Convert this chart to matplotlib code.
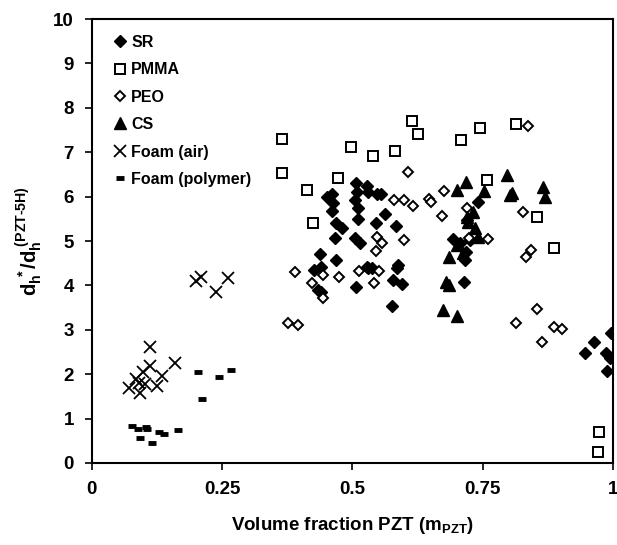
import matplotlib

matplotlib.use("Agg")

import matplotlib.pyplot as plt

plt.rcParams["font.family"] = "Liberation Sans"
plt.rcParams["font.weight"] = "bold"
plt.rcParams["axes.labelweight"] = "bold"
plt.rcParams["mathtext.fontset"] = "custom"
plt.rcParams["mathtext.rm"] = "Liberation Sans:bold"
plt.rcParams["mathtext.it"] = "Liberation Sans:bold"
plt.rcParams["mathtext.bf"] = "Liberation Sans:bold"

# values (x = PZT volume fraction, y = dh*/dh(PZT-5H))
SR_X = [0.507, 0.509, 0.505, 0.511, 0.510, 0.527, 0.530, 0.548, 0.554, 0.452, 0.460, 0.463, 0.460,
        0.468, 0.479, 0.466, 0.505, 0.514, 0.545, 0.562, 0.583, 0.438, 0.468, 0.439, 0.427, 0.434,
        0.440, 0.527, 0.537, 0.588, 0.585, 0.577, 0.596, 0.507, 0.575, 0.692, 0.740, 0.720, 0.706,
        0.718, 0.716, 0.714, 0.726, 0.996, 0.964, 0.946, 0.987, 0.994, 0.989, 0.530]
SR_Y = [6.31, 6.11, 5.92, 5.74, 5.50, 6.24, 6.11, 6.07, 6.06, 6.00, 6.07, 5.85, 5.68,
        5.41, 5.29, 5.06, 5.06, 4.96, 5.40, 5.62, 5.34, 4.71, 4.57, 4.42, 4.35, 3.90,
        3.85, 4.42, 4.39, 4.46, 4.40, 4.12, 4.03, 3.97, 3.54, 5.04, 5.89, 5.47, 4.95,
        4.76, 4.57, 4.08, 5.02, 2.93, 2.73, 2.47, 2.48, 2.36, 2.08, 4.40]

PMMA_X = [0.365, 0.365, 0.412, 0.425, 0.473, 0.498, 0.539, 0.582, 0.614, 0.626, 0.708, 0.744,
          0.813, 0.758, 0.855, 0.887, 0.974, 0.971]
PMMA_Y = [7.29, 6.54, 6.15, 5.40, 6.41, 7.12, 6.92, 7.03, 7.71, 7.41, 7.27, 7.54,
          7.63, 6.37, 5.55, 4.84, 0.69, 0.24]

PEO_X = [0.377, 0.396, 0.390, 0.423, 0.444, 0.444, 0.475, 0.513, 0.551, 0.541, 0.548, 0.556,
         0.545, 0.599, 0.580, 0.598, 0.617, 0.646, 0.650, 0.607, 0.676, 0.671, 0.720, 0.761,
         0.827, 0.842, 0.834, 0.855, 0.814, 0.863, 0.887, 0.903, 0.836, 0.724]
PEO_Y = [3.15, 3.11, 4.31, 4.05, 4.23, 3.71, 4.18, 4.33, 4.33, 4.06, 5.10, 4.96,
         4.78, 5.02, 5.92, 5.92, 5.80, 5.94, 5.89, 6.56, 6.13, 5.57, 5.74, 5.04,
         5.66, 4.80, 4.63, 3.46, 3.15, 2.73, 3.07, 3.01, 7.58, 5.06]

CS_X = [0.700, 0.718, 0.752, 0.796, 0.802, 0.806, 0.865, 0.869, 0.731, 0.735, 0.740, 0.722,
        0.700, 0.686, 0.679, 0.686, 0.673, 0.700, 0.713, 0.719]
CS_Y = [6.14, 6.34, 6.13, 6.49, 6.04, 6.08, 6.22, 6.00, 5.66, 5.29, 5.10, 5.43,
        4.91, 4.65, 4.08, 4.01, 3.45, 3.30, 4.72, 5.55]

AIR_X = [0.072, 0.084, 0.092, 0.098, 0.102, 0.111, 0.111, 0.125, 0.134, 0.160, 0.200, 0.209,
         0.238, 0.262, 0.090]
AIR_Y = [1.70, 1.89, 1.57, 2.06, 1.77, 2.62, 2.18, 1.73, 1.97, 2.26, 4.11, 4.20,
         3.86, 4.16, 1.80]

POLY_X = [0.077, 0.089, 0.104, 0.105, 0.092, 0.115, 0.129, 0.139, 0.165, 0.204, 0.212, 0.244, 0.267]
POLY_Y = [0.84, 0.76, 0.82, 0.76, 0.56, 0.46, 0.69, 0.65, 0.75, 2.06, 1.44, 1.94, 2.09]

X_TICKS = [0, 0.25, 0.5, 0.75, 1]
X_TICKLABELS = ["0", "0.25", "0.5", "0.75", "1"]


def main():
    fig = plt.figure(figsize=(6.17, 5.45), dpi=100)
    ax = fig.add_axes([0.149, 0.1505, 0.8445, 0.8145])

    ax.plot(SR_X, SR_Y, ls="none", marker="D", ms=6.5, color="black", label="SR")
    ax.plot(PMMA_X, PMMA_Y, ls="none", marker="s", ms=7.5, mfc="white", mec="black", mew=1.4,
            label="PMMA")
    ax.plot(PEO_X, PEO_Y, ls="none", marker="D", ms=5.5, mfc="white", mec="black", mew=1.4,
            label="PEO")
    ax.plot(CS_X, CS_Y, ls="none", marker="^", ms=8, color="black", label="CS")
    ax.plot(AIR_X, AIR_Y, ls="none", marker="x", ms=8.5, mew=1.3, color="black", label="Foam (air)")
    ax.plot(POLY_X, POLY_Y, ls="none", marker="_", ms=5.5, mew=3.5, color="black",
            label="Foam (polymer)")

    ax.set_xlim(0, 1)
    ax.set_ylim(0, 10)
    ax.set_xticks(X_TICKS)
    ax.set_xticklabels(X_TICKLABELS)
    ax.set_yticks(range(0, 11))
    ax.tick_params(direction="out", length=5, width=1.2, labelsize=13.5, pad=8)
    for sp in ax.spines.values():
        sp.set_linewidth(1.5)

    ax.set_xlabel(r"Volume fraction PZT (m$_{\mathrm{PZT}}$)", fontsize=13.5, fontweight="bold",
                  labelpad=12)
    ax.set_ylabel(r"$\mathrm{d_h^{\ *}/d_h^{\ (PZT\text{-}5H)}}$", fontsize=14.5, labelpad=6)

    leg = ax.legend(loc="upper left", bbox_to_anchor=(0.02, 0.99), frameon=False, fontsize=11.5,
                    handlelength=0.8, handletextpad=0.3, labelspacing=0.78, borderaxespad=0.3,
                    numpoints=1)
    for t in leg.get_texts():
        t.set_fontweight("bold")

    fig.savefig("out.png", dpi=100, facecolor="white")
    plt.close(fig)


if __name__ == "__main__":
    main()
